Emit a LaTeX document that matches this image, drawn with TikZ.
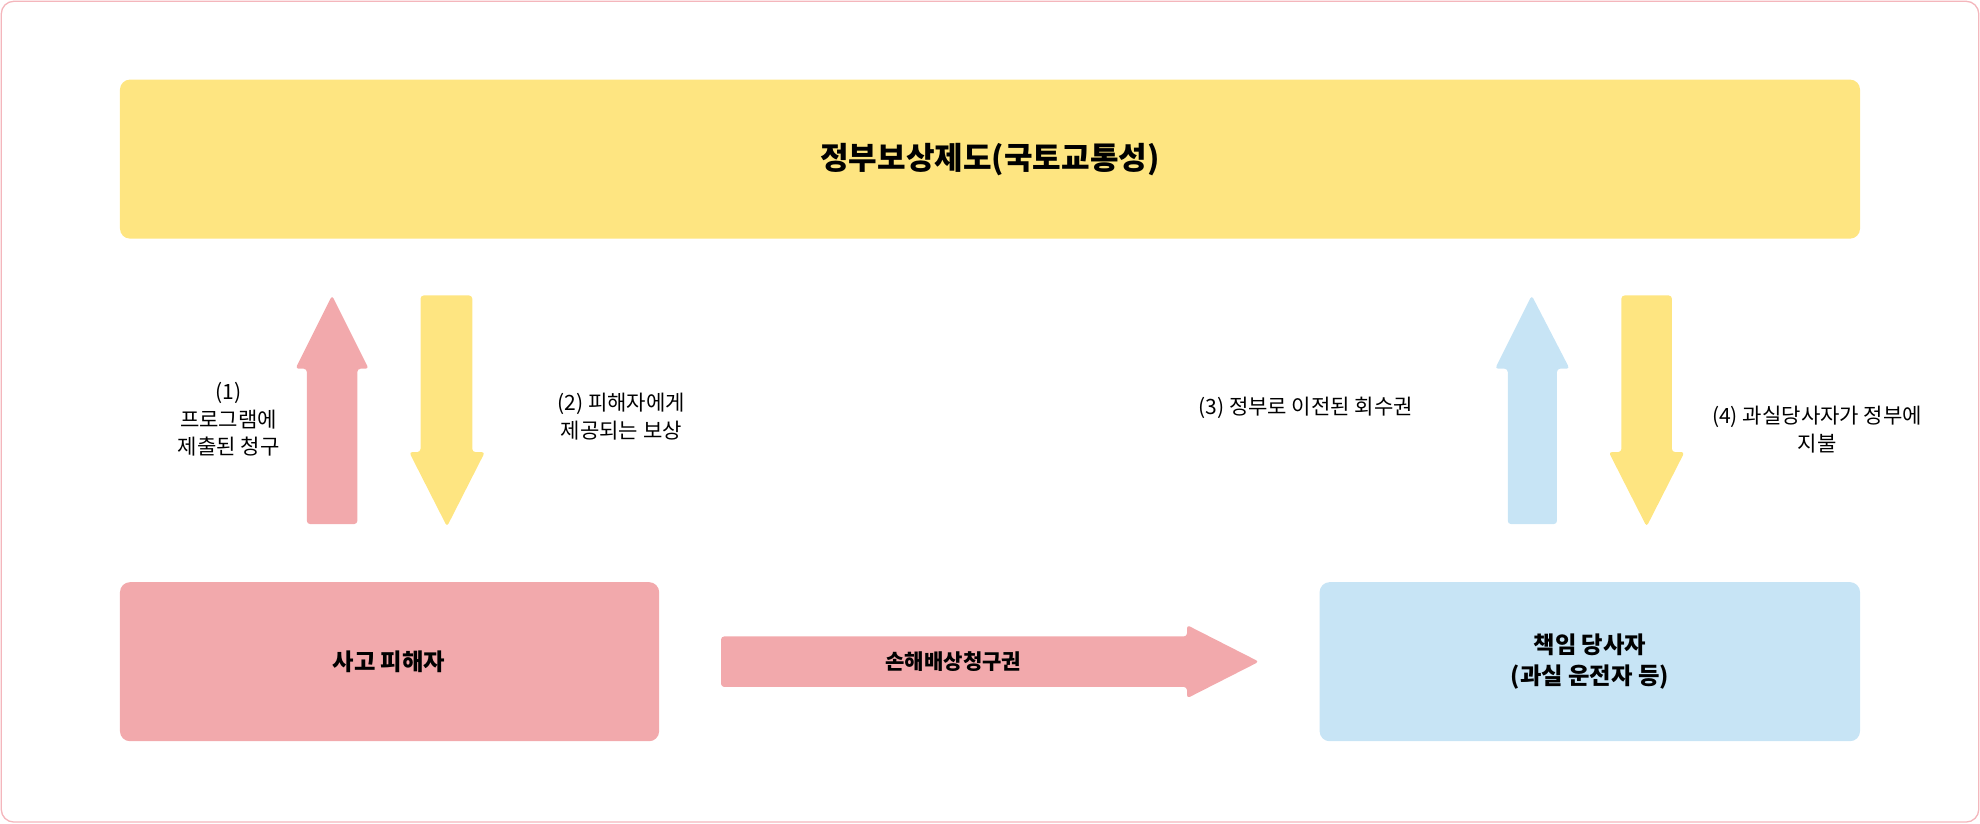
\documentclass[tikz,border=0pt]{standalone}
\usepackage{fontspec}
\setmainfont{Noto Sans CJK KR}
\begin{document}
\begin{tikzpicture}[x=0.02cm,y=-0.02cm,
  box/.style={rounded corners=0.16cm,draw=none},
  arr/.style={rounded corners=0.05cm,draw=none},
  lbl/.style={font=\fontsize{9.5}{12.5}\selectfont,align=center},
  btxt/.style={font=\fontsize{10.5}{14}\selectfont\bfseries,align=center}]
\definecolor{cy}{HTML}{FEE581}
\definecolor{cp}{HTML}{F2A9AC}
\definecolor{cb}{HTML}{C7E4F5}
\definecolor{cbd}{HTML}{F4B6BC}
\useasboundingbox (0,0) rectangle (1568,652);
\draw[cbd,rounded corners=0.2cm,line width=0.6pt] (1,1) rectangle (1567,651);
\fill[box,cy] (95,63) rectangle (1473,189);
\node[font=\fontsize{14}{17}\selectfont\bfseries] (gov) at (784,126) {정부보상제도(국토교통성)};
\fill[box,cp] (95,461) rectangle (522,587);
\node[btxt] (vic) at (308,524) {사고 피해자};
\fill[box,cb] (1045,461) rectangle (1473,587);
\node[btxt] (res) at (1259,524) {책임 당사자\\(과실 운전자 등)};
% arrow 1 up
\fill[arr,cp] (243,415) -- (243,292) -- (234,292) -- (263,234) -- (292,292) -- (283,292) -- (283,415) -- cycle;
% arrow 2 down
\fill[arr,cy] (333,234) -- (333,358) -- (324,358) -- (354,417) -- (384,358) -- (374,358) -- (374,234) -- cycle;
% arrow 3 up
\fill[arr,cb] (1194,415) -- (1194,292) -- (1184,292) -- (1213,234) -- (1243,292) -- (1233,292) -- (1233,415) -- cycle;
% arrow 4 down
\fill[arr,cy] (1284,234) -- (1284,358) -- (1274,358) -- (1304,417) -- (1334,358) -- (1324,358) -- (1324,234) -- cycle;
% horizontal
\fill[arr,cp] (571,504) -- (940,504) -- (940,495) -- (997,524) -- (940,553) -- (940,544) -- (571,544) -- cycle;
\node[font=\fontsize{9.5}{12}\selectfont\bfseries] (claim) at (755,524) {손해배상청구권};
\node[lbl] (l1) at (181,332) {(1)\\프로그램에\\제출된 청구};
\node[lbl] (l2) at (492,330) {(2) 피해자에게\\제공되는 보상};
\node[lbl] (l3) at (1034,323) {(3) 정부로 이전된 회수권};
\node[lbl] (l4) at (1439,340) {(4) 과실당사자가 정부에\\지불};
\end{tikzpicture}
\end{document}
